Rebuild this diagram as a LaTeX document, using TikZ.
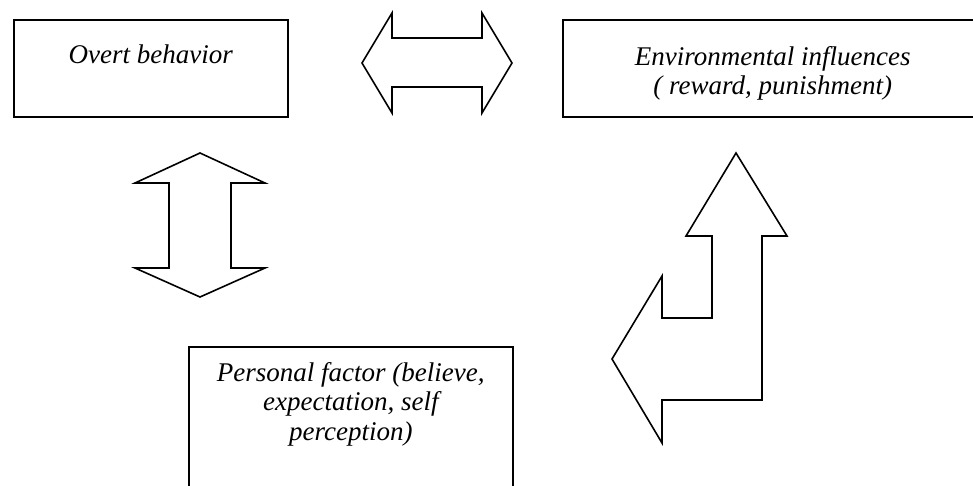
\documentclass[tikz,border=0pt]{standalone}
\usepackage{fontspec}
\setmainfont{Liberation Serif}
\usetikzlibrary{positioning}
\tikzstyle{box} = [draw, rectangle, line width=1.6pt, anchor=north west, inner sep=0pt]
\tikzstyle{txt} = [align=center, inner sep=0pt, font=\fontsize{27}{29.5}\selectfont\itshape]
\tikzstyle{blockarrow} = [draw, line width=1.6pt, line join=miter]

\begin{document}
\begin{tikzpicture}[x=1pt, y=-1pt]
	\clip (0,0) rectangle (973,485);
	
	\node [box, minimum width=274pt, minimum height=97pt] (overt) at (13,19) {};
	\node [box, minimum width=420pt, minimum height=97pt] (env) at (562,19) {};
	\node [box, minimum width=324pt, minimum height=160pt] (pers) at (188,346) {};
	
	\node [txt, below=26pt of overt.north] (overtText) {Overt behavior};
	\node [txt, below=27pt of env.north] (envText) {Environmental influences\\( reward, punishment)};
	\node [txt, below=16pt of pers.north] (persText) {Personal factor (believe,\\expectation, self\\perception)};
	
	% overt <-> environment
	\draw [blockarrow] (362,63) -- (392,13) -- (392,38) -- (482,38) -- (482,13) -- (512,63)
		-- (482,113) -- (482,87) -- (392,87) -- (392,113) -- cycle;
	% overt <-> personal
	\draw [blockarrow] (200,153) -- (265,183) -- (231,183) -- (231,268) -- (265,268) -- (200,297)
		-- (135,268) -- (169,268) -- (169,183) -- (135,183) -- cycle;
	% personal <-> environment (bent)
	\draw [blockarrow] (736,153) -- (787,236) -- (762,236) -- (762,400) -- (662,400) -- (662,443)
		-- (612,359) -- (662,276) -- (662,318) -- (712,318) -- (712,236) -- (686,236) -- cycle;
\end{tikzpicture}
\end{document}
